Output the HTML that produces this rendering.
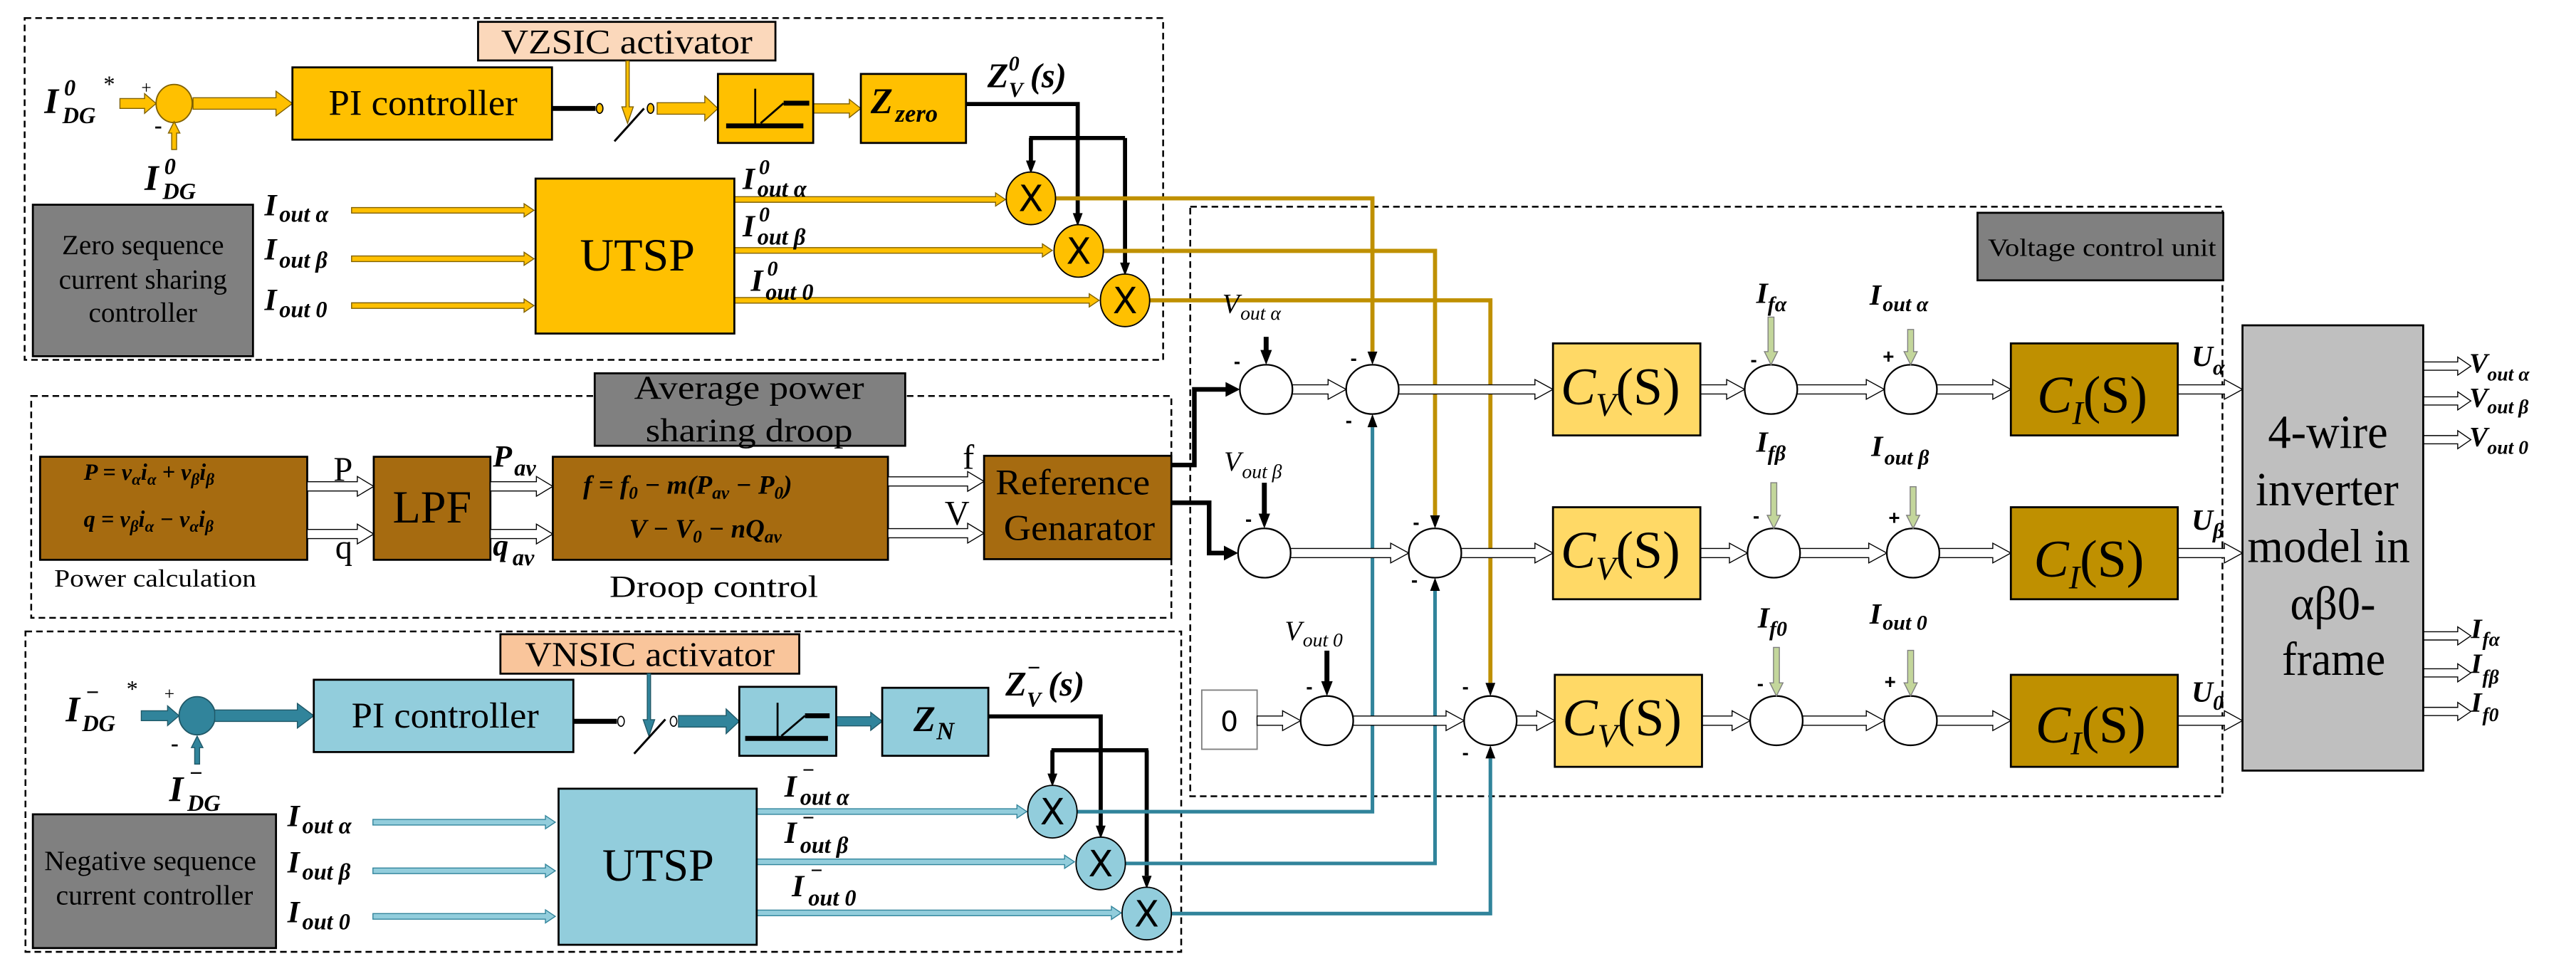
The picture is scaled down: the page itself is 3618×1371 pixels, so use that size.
<!DOCTYPE html>
<html><head><meta charset="utf-8"><style>
html,body{margin:0;padding:0;background:#fff}
svg{display:block}
.s{font-family:"Liberation Serif",serif}
.m{font-family:"Liberation Serif",serif;font-style:italic;font-weight:bold}
.i{font-family:"Liberation Serif",serif;font-style:italic}
.x{font-family:"DejaVu Sans","Liberation Sans",sans-serif}
</style></head><body>
<svg width="3618" height="1371" viewBox="0 0 1568 594" preserveAspectRatio="none" xmlns="http://www.w3.org/2000/svg">
<rect width="1568" height="594" fill="#fff"/>
<g fill="none" stroke="#000" stroke-width="1.1" stroke-dasharray="4,2.5">
<rect x="15" y="11" width="693" height="208"/>
<rect x="19" y="241" width="694" height="135"/>
<rect x="15.5" y="384.3" width="703.5" height="195"/>
<rect x="724.5" y="125.8" width="628.3" height="358.8"/>
</g>

<!-- ===== TOP: zero sequence ===== -->
<rect x="291" y="13.3" width="181" height="23.5" fill="#fbd8bb" stroke="#000" stroke-width="1.2"/>
<text class="s" x="305" y="32.5" font-size="21" textLength="153" lengthAdjust="spacingAndGlyphs">VZSIC activator</text>
<ellipse cx="106" cy="63" rx="11" ry="11.6" fill="#ffc000" stroke="#7f6000" stroke-width="0.8"/>
<g fill="#ffc000" stroke="#7f6000" stroke-width="0.6">
<path d="M73 60H88V57L95 63L88 69V66H73Z"/>
<path d="M117.5 59.5H168V55.5L178 63L168 70.5V66.5H117.5Z"/>
<path d="M400 62.5H429V58.5L437 66L429 73.5V69.5H400Z"/>
<path d="M495 63.2H517V60.5L524 66L517 71.5V68.8H495Z"/>
<path d="M104.5 91V81H102.5L106 74L109.5 81H107.5V91Z"/>
<path d="M381 37V65H378.5L382 75L385.5 65H383V37Z"/>
<path d="M214 126.3H319V124L325 128L319 132V129.7H214Z"/>
<path d="M214 155.8H319V153.5L325 157.5L319 161.5V159.2H214Z"/>
<path d="M214 184.3H319V182L325 186L319 190V187.7H214Z"/>
<path d="M447 119.7H606V117.4L612 121.4L606 125.4V123.1H447Z"/>
<path d="M447 150.7H634.5V148.4L640.5 152.4L634.5 156.4V154.1H447Z"/>
<path d="M447 181.1H663V178.8L669 182.8L663 186.8V184.5H447Z"/>
</g>
<text class="s" x="86" y="57" font-size="11">+</text>
<text class="s" x="94" y="81" font-size="14" font-weight="bold">-</text>
<rect x="178" y="41" width="158" height="44" fill="#ffc000" stroke="#000" stroke-width="1.2"/>
<text class="s" x="200" y="70" font-size="22" textLength="115" lengthAdjust="spacingAndGlyphs">PI controller</text>
<line x1="336" y1="66" x2="362.5" y2="66" stroke="#000" stroke-width="3"/>
<ellipse cx="365" cy="66" rx="2" ry="3" fill="#ffc000" stroke="#000" stroke-width="0.7"/>
<ellipse cx="396" cy="66" rx="2" ry="3" fill="#ffc000" stroke="#000" stroke-width="0.7"/>
<line x1="374" y1="86" x2="392" y2="66" stroke="#000" stroke-width="1.3"/>
<rect x="437" y="45" width="58" height="42" fill="#ffc000" stroke="#000" stroke-width="1.2"/>
<g stroke="#000" fill="none"><line x1="459.7" y1="54" x2="459.7" y2="77" stroke-width="1.2"/><line x1="442" y1="76.6" x2="489" y2="76.6" stroke-width="3"/><line x1="463" y1="75" x2="477" y2="62.8" stroke-width="1.2"/><line x1="477" y1="62.8" x2="492.6" y2="62.8" stroke-width="3"/></g>
<rect x="524" y="45" width="64" height="42" fill="#ffc000" stroke="#000" stroke-width="1.2"/>
<text class="m" x="530" y="69" font-size="22">Z</text><text class="m" x="545" y="74" font-size="15">zero</text>
<text class="m" x="601" y="53" font-size="21">Z</text><text class="m" x="614" y="43" font-size="13">0</text><text class="m" x="614" y="59" font-size="13">V</text><text class="m" x="627" y="53" font-size="21">(s)</text>
<g stroke="#000" stroke-width="2.5" fill="none"><path d="M588 63.3H656V130"/><path d="M626.5 84H684.8"/><path d="M627.5 84V98"/><path d="M684.8 84V160"/></g>
<g fill="#000"><path d="M624.5 97.7L630.5 97.7L627.5 105.7Z"/><path d="M653 129.7L659 129.7L656 137.7Z"/><path d="M681.8 159.8L687.8 159.8L684.8 167.8Z"/></g>
<g stroke="#bf9000" stroke-width="2.5" fill="none"><path d="M642.5 120.7H835.4V214"/><path d="M671.6 152.7H873.5V313.6"/><path d="M699.8 182.8H907.2V415.6"/></g>
<g fill="#ffc000" stroke="#000" stroke-width="0.8"><ellipse cx="627.5" cy="120.7" rx="15" ry="16"/><ellipse cx="656.6" cy="152.7" rx="15" ry="16"/><ellipse cx="684.8" cy="182.8" rx="15" ry="16"/></g>
<g class="x" font-size="22" text-anchor="middle"><text x="627.5" y="128.5">X</text><text x="656.6" y="160.5">X</text><text x="684.8" y="190.6">X</text></g>
<rect x="326" y="108.7" width="121" height="94.3" fill="#ffc000" stroke="#000" stroke-width="1.2"/>
<text class="s" x="353" y="164.7" font-size="28" textLength="70" lengthAdjust="spacingAndGlyphs">UTSP</text>
<rect x="20" y="124.6" width="134" height="92.2" fill="#808080" stroke="#000" stroke-width="1.2"/>
<g class="s" font-size="17" text-anchor="middle"><text x="87" y="154.6">Zero sequence</text><text x="87" y="175.6">current sharing</text><text x="87" y="195.8">controller</text></g>
<text class="m" x="27" y="69" font-size="22">I</text><text class="m" x="39" y="58" font-size="14">0</text><text class="m" x="38" y="75" font-size="14">DG</text><text class="s" x="63" y="56" font-size="14">*</text>
<text class="m" x="88" y="115.6" font-size="22">I</text><text class="m" x="100" y="106" font-size="14">0</text><text class="m" x="99" y="121" font-size="14">DG</text>
<g class="m"><text x="161" y="131" font-size="19">I</text><text x="170" y="135" font-size="14">out α</text>
<text x="161" y="158" font-size="19">I</text><text x="170" y="163" font-size="14">out β</text>
<text x="161" y="188.6" font-size="19">I</text><text x="170" y="193" font-size="14">out 0</text>
<text x="452" y="115" font-size="19">I</text><text x="462" y="106" font-size="13">0</text><text x="461" y="119.6" font-size="14">out α</text>
<text x="452" y="143.8" font-size="19">I</text><text x="462" y="134.8" font-size="13">0</text><text x="461" y="148.8" font-size="14">out β</text>
<text x="457" y="177" font-size="19">I</text><text x="467" y="167.6" font-size="13">0</text><text x="466" y="182.4" font-size="14">out 0</text></g>

<!-- ===== MIDDLE ===== -->
<rect x="24.4" y="278" width="162.6" height="62.7" fill="#a66b10" stroke="#000" stroke-width="1.2"/>
<text class="m" x="51" y="292" font-size="14">P = v<tspan font-size="10" dy="3">α</tspan><tspan dy="-3">i</tspan><tspan font-size="10" dy="3">α</tspan><tspan dy="-3"> + v</tspan><tspan font-size="10" dy="3">β</tspan><tspan dy="-3">i</tspan><tspan font-size="10" dy="3">β</tspan></text>
<text class="m" x="51" y="320.7" font-size="14">q = v<tspan font-size="10" dy="3">β</tspan><tspan dy="-3">i</tspan><tspan font-size="10" dy="3">α</tspan><tspan dy="-3"> − v</tspan><tspan font-size="10" dy="3">α</tspan><tspan dy="-3">i</tspan><tspan font-size="10" dy="3">β</tspan></text>
<text class="s" x="33" y="357" font-size="15" textLength="123" lengthAdjust="spacingAndGlyphs">Power calculation</text>
<rect x="227.5" y="278" width="71" height="62.7" fill="#a66b10" stroke="#000" stroke-width="1.2"/>
<text class="s" x="239" y="318" font-size="28" textLength="48" lengthAdjust="spacingAndGlyphs">LPF</text>
<rect x="336.5" y="278" width="204" height="62.7" fill="#a66b10" stroke="#000" stroke-width="1.2"/>
<text class="m" x="355" y="300.5" font-size="16">f = f<tspan font-size="11" dy="3">0</tspan><tspan dy="-3"> − m(P</tspan><tspan font-size="11" dy="3">av</tspan><tspan dy="-3"> − P</tspan><tspan font-size="11" dy="3">0</tspan><tspan dy="-3">)</tspan></text>
<text class="m" x="383" y="327.2" font-size="16">V − V<tspan font-size="11" dy="3">0</tspan><tspan dy="-3"> − nQ</tspan><tspan font-size="11" dy="3">av</tspan></text>
<text class="s" x="371" y="363.4" font-size="19" textLength="127" lengthAdjust="spacingAndGlyphs">Droop control</text>
<rect x="599" y="277.4" width="114" height="62.9" fill="#a66b10" stroke="#000" stroke-width="1.2"/>
<text class="s" x="606" y="301" font-size="22" textLength="94" lengthAdjust="spacingAndGlyphs">Reference</text>
<text class="s" x="611" y="328.7" font-size="22" textLength="92" lengthAdjust="spacingAndGlyphs">Genarator</text>
<rect x="362" y="227.2" width="189" height="44.1" fill="#808080" stroke="#000" stroke-width="1.2"/>
<g class="s" font-size="20" text-anchor="middle"><text x="456" y="242.7" textLength="140" lengthAdjust="spacingAndGlyphs">Average power</text><text x="456" y="268.7" textLength="126" lengthAdjust="spacingAndGlyphs">sharing droop</text></g>
<g fill="#fff" stroke="#000" stroke-width="0.6">
<path d="M187 293.2H217.5V290L227.5 296L217.5 302V298.8H187Z"/>
<path d="M187 322.2H217.5V319L227.5 325L217.5 331V327.8H187Z"/>
<path d="M298.5 293.2H326.5V290L336.5 296L326.5 302V298.8H298.5Z"/>
<path d="M298.5 322.2H326.5V319L336.5 325L326.5 331V327.8H298.5Z"/>
<path d="M540.5 290.2H589V287L599 293L589 299V295.8H540.5Z"/>
<path d="M540.5 321.7H589V318.5L599 324.5L589 330.5V327.3H540.5Z"/>
</g>
<text class="s" x="203" y="292.6" font-size="21">P</text>
<text class="s" x="204" y="340" font-size="21">q</text>
<text class="m" x="300" y="284" font-size="19">P</text><text class="m" x="313" y="289.5" font-size="14">av</text>
<text class="m" x="300" y="338" font-size="19">q</text><text class="m" x="312" y="344" font-size="14">av</text>
<text class="s" x="586" y="285.3" font-size="21">f</text>
<text class="s" x="575" y="319.3" font-size="21">V</text>
<g stroke="#000" stroke-width="2.8" fill="none"><path d="M713 283H727V237H747"/><path d="M713 306H736V336.6H746"/></g>
<g fill="#000"><path d="M746 232.5L754.7 237L746 241.5Z"/><path d="M745 332.1L753.6 336.6L745 341.1Z"/></g>

<!-- ===== BOTTOM: negative sequence ===== -->
<rect x="304.6" y="386" width="181.9" height="24" fill="#f9c59b" stroke="#000" stroke-width="1.2"/>
<text class="s" x="319.6" y="405.3" font-size="21" textLength="152" lengthAdjust="spacingAndGlyphs">VNSIC activator</text>
<ellipse cx="120" cy="435.6" rx="11" ry="11.6" fill="#31849b" stroke="#205867" stroke-width="0.8"/>
<g fill="#31849b" stroke="#205867" stroke-width="0.6">
<path d="M86 432.6H102V429.6L109 435.6L102 441.6V438.6H86Z"/>
<path d="M130.7 432.1H181V428.1L191 435.6L181 443.1V439.1H130.7Z"/>
<path d="M118.5 465V455H116.5L120 448L123.5 455H121.5V465Z"/>
<path d="M394 410V438H391.5L395 448L398.5 438H396V410Z"/>
<path d="M413 435.5H442V431.5L450 439L442 446.5V442.5H413Z"/>
<path d="M509 436.2H530V433.5L537 439L530 444.5V441.8H509Z"/>
</g>
<g fill="#92cddc" stroke="#31849b" stroke-width="0.6">
<path d="M227 498.7H332V496.4L338 500.4L332 504.4V502.1H227Z"/>
<path d="M227 528.3H332V526L338 530L332 534V531.7H227Z"/>
<path d="M227 556H332V553.7L338 557.7L332 561.7V559.4H227Z"/>
<path d="M460.6 492.2H619V489.9L625 493.9L619 497.9V495.6H460.6Z"/>
<path d="M460.6 522.8H648V520.5L654 524.5L648 528.5V526.2H460.6Z"/>
<path d="M460.6 553.9H676.5V551.6L682.5 555.6L676.5 559.6V557.3H460.6Z"/>
</g>
<text class="s" x="100" y="426" font-size="11">+</text>
<text class="s" x="104" y="457" font-size="14" font-weight="bold">-</text>
<rect x="191" y="413.7" width="158" height="44" fill="#92cddc" stroke="#000" stroke-width="1.2"/>
<text class="s" x="214" y="442.8" font-size="22" textLength="114" lengthAdjust="spacingAndGlyphs">PI controller</text>
<line x1="349" y1="439" x2="375.5" y2="439" stroke="#000" stroke-width="3"/>
<ellipse cx="378" cy="439" rx="2" ry="3" fill="#fff" stroke="#000" stroke-width="0.7"/>
<ellipse cx="410" cy="439" rx="2" ry="3" fill="#fff" stroke="#000" stroke-width="0.7"/>
<line x1="386" y1="458.7" x2="405" y2="437.8" stroke="#000" stroke-width="1.3"/>
<rect x="450" y="418" width="59" height="42" fill="#92cddc" stroke="#000" stroke-width="1.2"/>
<g stroke="#000" fill="none"><line x1="473.3" y1="427.7" x2="473.3" y2="449.4" stroke-width="1.2"/><line x1="453.6" y1="449.4" x2="504" y2="449.4" stroke-width="3"/><line x1="475.6" y1="447.9" x2="490" y2="435.6" stroke-width="1.2"/><line x1="490" y1="435.6" x2="505" y2="435.6" stroke-width="3"/></g>
<rect x="537" y="418.6" width="64.6" height="41.4" fill="#92cddc" stroke="#000" stroke-width="1.2"/>
<text class="m" x="556" y="445" font-size="22">Z</text><text class="m" x="570" y="450" font-size="15">N</text>
<text class="m" x="612" y="423.3" font-size="21">Z</text><text class="m" x="625" y="411" font-size="14">−</text><text class="m" x="625" y="430" font-size="13">V</text><text class="m" x="638" y="423.3" font-size="21">(s)</text>
<g stroke="#000" stroke-width="2.5" fill="none"><path d="M601.6 436H670V503"/><path d="M640 456.6H699"/><path d="M640.6 456.6V471"/><path d="M698 456.6V533"/></g>
<g fill="#000"><path d="M637.6 470.8L643.6 470.8L640.6 478.8Z"/><path d="M667 502.5L673 502.5L670 510.5Z"/><path d="M695 533L701 533L698 541Z"/></g>
<g stroke="#31849b" stroke-width="2.2" fill="none"><path d="M655.6 494H835.4V260"/><path d="M685 525.5H873.5V359.6"/><path d="M713 556H907.2V461.6"/></g>
<g fill="#92cddc" stroke="#000" stroke-width="0.8"><ellipse cx="640.6" cy="494" rx="15" ry="16"/><ellipse cx="670" cy="525.5" rx="15" ry="16"/><ellipse cx="698" cy="556" rx="15" ry="16"/></g>
<g class="x" font-size="22" text-anchor="middle"><text x="640.6" y="501.8">X</text><text x="670" y="533.3">X</text><text x="698" y="563.8">X</text></g>
<rect x="340" y="480" width="120.6" height="95" fill="#92cddc" stroke="#000" stroke-width="1.2"/>
<text class="s" x="366.6" y="536" font-size="28" textLength="68" lengthAdjust="spacingAndGlyphs">UTSP</text>
<rect x="20" y="495.6" width="148" height="81.4" fill="#808080" stroke="#000" stroke-width="1.2"/>
<g class="s" font-size="17"><text x="27" y="529.5" textLength="129" lengthAdjust="spacingAndGlyphs">Negative sequence</text><text x="34" y="550.5" textLength="120" lengthAdjust="spacingAndGlyphs">current controller</text></g>
<text class="m" x="40" y="439.2" font-size="22">I</text><text class="m" x="52" y="426" font-size="14">−</text><text class="m" x="50" y="445" font-size="14">DG</text><text class="s" x="77" y="424" font-size="14">*</text>
<text class="m" x="103" y="487.6" font-size="22">I</text><text class="m" x="115" y="475" font-size="14">−</text><text class="m" x="114" y="493.4" font-size="14">DG</text>
<g class="m"><text x="175" y="502.8" font-size="19">I</text><text x="184" y="507.2" font-size="14">out α</text>
<text x="175" y="531" font-size="19">I</text><text x="184" y="535.3" font-size="14">out β</text>
<text x="175" y="561.3" font-size="19">I</text><text x="184" y="565.7" font-size="14">out 0</text>
<text x="477.5" y="484.8" font-size="19">I</text><text x="488" y="473" font-size="13">−</text><text x="487" y="489.8" font-size="14">out α</text>
<text x="477.5" y="513" font-size="19">I</text><text x="488" y="502" font-size="13">−</text><text x="487" y="519" font-size="14">out β</text>
<text x="482" y="545.4" font-size="19">I</text><text x="493" y="534" font-size="13">−</text><text x="492" y="551" font-size="14">out 0</text></g>

<!-- ===== VOLTAGE CONTROL UNIT ===== -->
<rect x="1203.7" y="129.5" width="149.6" height="41.1" fill="#808080" stroke="#000" stroke-width="1.2"/>
<text class="s" x="1210" y="155.7" font-size="15" textLength="139" lengthAdjust="spacingAndGlyphs">Voltage control unit</text>
<rect x="731.5" y="420" width="33.7" height="36" fill="#fff" stroke="#7f7f7f" stroke-width="0.8"/>
<text class="x" x="748.3" y="445" font-size="17" text-anchor="middle">0</text>
<g fill="#fff" stroke="#000" stroke-width="0.6">
<path d="M786.7 234.2H808.4V231L819.4 237L808.4 243V239.8H786.7Z"/>
<path d="M851.4 234.2H934.3V231L945.3 237L934.3 243V239.8H851.4Z"/>
<path d="M1035 234.2H1051V231L1062 237L1051 243V239.8H1035Z"/>
<path d="M1094 234.2H1136V231L1147 237L1136 243V239.8H1094Z"/>
<path d="M1179 234.2H1213V231L1224 237L1213 243V239.8H1179Z"/>
<path d="M1325.6 234.2H1354V231L1365 237L1354 243V239.8H1325.6Z"/>
<path d="M785.6 333.8H846.5V330.6L857.5 336.6L846.5 342.6V339.4H785.6Z"/>
<path d="M889.5 333.8H934.3V330.6L945.3 336.6L934.3 342.6V339.4H889.5Z"/>
<path d="M1035 333.8H1052.7V330.6L1063.7 336.6L1052.7 342.6V339.4H1035Z"/>
<path d="M1095.7 333.8H1137.5V330.6L1148.5 336.6L1137.5 342.6V339.4H1095.7Z"/>
<path d="M1180.5 333.8H1213V330.6L1224 336.6L1213 342.6V339.4H1180.5Z"/>
<path d="M1325.6 333.8H1354V330.6L1365 336.6L1354 342.6V339.4H1325.6Z"/>
<path d="M765.2 435.8H780.7V432.6L791.7 438.6L780.7 444.6V441.4H765.2Z"/>
<path d="M823.7 435.8H880.2V432.6L891.2 438.6L880.2 444.6V441.4H823.7Z"/>
<path d="M923.2 435.8H935.4V432.6L946.4 438.6L935.4 444.6V441.4H923.2Z"/>
<path d="M1036 435.8H1054.3V432.6L1065.3 438.6L1054.3 444.6V441.4H1036Z"/>
<path d="M1097.3 435.8H1136V432.6L1147 438.6L1136 444.6V441.4H1097.3Z"/>
<path d="M1179 435.8H1213V432.6L1224 438.6L1213 444.6V441.4H1179Z"/>
<path d="M1325.6 435.8H1354V432.6L1365 438.6L1354 444.6V441.4H1325.6Z"/>
<path d="M1475 220.3H1496V217.3L1504 222.8L1496 228.3V225.3H1475Z"/>
<path d="M1475 241.5H1496V238.5L1504 244L1496 249.5V246.5H1475Z"/>
<path d="M1475 265.1H1496V262.1L1504 267.6L1496 273.1V270.1H1475Z"/>
<path d="M1475 384.5H1496V381.5L1504 387L1496 392.5V389.5H1475Z"/>
<path d="M1475 407H1496V404L1504 409.5L1496 415V412H1475Z"/>
<path d="M1475 430.5H1496V427.5L1504 433L1496 438.5V435.5H1475Z"/>
</g>
<g fill="#fff" stroke="#000" stroke-width="1">
<ellipse cx="770.7" cy="237" rx="16" ry="15"/><ellipse cx="835.4" cy="237" rx="16" ry="15"/><ellipse cx="1078" cy="237" rx="16" ry="15"/><ellipse cx="1163" cy="237" rx="16" ry="15"/>
<ellipse cx="769.6" cy="336.6" rx="16" ry="15"/><ellipse cx="873.5" cy="336.6" rx="16" ry="15"/><ellipse cx="1079.7" cy="336.6" rx="16" ry="15"/><ellipse cx="1164.5" cy="336.6" rx="16" ry="15"/>
<ellipse cx="807.7" cy="438.6" rx="16" ry="15"/><ellipse cx="907.2" cy="438.6" rx="16" ry="15"/><ellipse cx="1081.3" cy="438.6" rx="16" ry="15"/><ellipse cx="1163" cy="438.6" rx="16" ry="15"/>
</g>
<g fill="#000">
<path d="M832.4 214L838.4 214L835.4 222Z"/><path d="M870.5 313.6L876.5 313.6L873.5 321.6Z"/><path d="M904.2 415.6L910.2 415.6L907.2 423.6Z"/>
<path d="M832.4 260L838.4 260L835.4 252Z"/><path d="M870.5 359.6L876.5 359.6L873.5 351.6Z"/><path d="M904.2 461.6L910.2 461.6L907.2 453.6Z"/>
<path d="M767.2 213L774.2 213L770.7 222Z"/><path d="M766.1 312.6L773.1 312.6L769.6 321.6Z"/><path d="M804.2 414.6L811.2 414.6L807.7 423.6Z"/>
</g>
<g stroke="#000" stroke-width="3"><line x1="770.7" y1="205" x2="770.7" y2="214"/><line x1="769.6" y1="293.8" x2="769.6" y2="313.6"/><line x1="807.7" y1="396" x2="807.7" y2="415.6"/></g>
<g fill="#c3d69b" stroke="#7f7f7f" stroke-width="0.6">
<path d="M1076.2 193V214H1074L1078 222L1082 214H1079.8V193Z"/>
<path d="M1161.2 200.5V214H1159L1163 222L1167 214H1164.8V200.5Z"/>
<path d="M1077.9 293.8V313.6H1075.7L1079.7 321.6L1083.7 313.6H1081.5V293.8Z"/>
<path d="M1162.7 296.2V313.6H1160.5L1164.5 321.6L1168.5 313.6H1166.3V296.2Z"/>
<path d="M1079.5 394V415.6H1077.3L1081.3 423.6L1085.3 415.6H1083.1V394Z"/>
<path d="M1161.2 395.8V415.6H1159L1163 423.6L1167 415.6H1164.8V395.8Z"/>
</g>
<g font-family="Liberation Sans,sans-serif" font-weight="bold" font-size="12">
<text x="751" y="224">-</text><text x="822" y="222">-</text><text x="819" y="260">-</text><text x="1065.5" y="223">-</text><text x="1146" y="221">+</text>
<text x="758" y="320">-</text><text x="860" y="322">-</text><text x="859" y="357">-</text><text x="1067" y="318">-</text><text x="1149.5" y="319">+</text>
<text x="795" y="422">-</text><text x="890" y="422">-</text><text x="890" y="462">-</text><text x="1069.5" y="420">-</text><text x="1147" y="419">+</text>
</g>
<g fill="#ffd966" stroke="#000" stroke-width="1.2"><rect x="945.3" y="209" width="89.7" height="56"/><rect x="945.3" y="308.7" width="89.7" height="56"/><rect x="946.4" y="410.7" width="89.6" height="56"/></g>
<g fill="#bf9000" stroke="#000" stroke-width="1.2"><rect x="1224" y="209" width="101.6" height="56"/><rect x="1224" y="308.7" width="101.6" height="56"/><rect x="1224" y="410.7" width="101.6" height="56"/></g>
<g class="s" font-size="32">
<text x="950" y="246"><tspan font-style="italic">C</tspan><tspan font-style="italic" font-size="20" dy="7">V</tspan><tspan dy="-7">(S)</tspan></text>
<text x="950" y="345.6"><tspan font-style="italic">C</tspan><tspan font-style="italic" font-size="20" dy="7">V</tspan><tspan dy="-7">(S)</tspan></text>
<text x="951" y="447.6"><tspan font-style="italic">C</tspan><tspan font-style="italic" font-size="20" dy="7">V</tspan><tspan dy="-7">(S)</tspan></text>
<text x="1240" y="251"><tspan font-style="italic">C</tspan><tspan font-style="italic" font-size="20" dy="7">I</tspan><tspan dy="-7">(S)</tspan></text>
<text x="1238" y="351"><tspan font-style="italic">C</tspan><tspan font-style="italic" font-size="20" dy="7">I</tspan><tspan dy="-7">(S)</tspan></text>
<text x="1239" y="452"><tspan font-style="italic">C</tspan><tspan font-style="italic" font-size="20" dy="7">I</tspan><tspan dy="-7">(S)</tspan></text>
</g>
<g class="i"><text x="744" y="190.5" font-size="17">V</text><text x="755" y="194.5" font-size="12">out  α</text>
<text x="745" y="286.3" font-size="17">V</text><text x="756" y="291" font-size="12">out  β</text>
<text x="782" y="389.5" font-size="17">V</text><text x="793" y="393.3" font-size="12">out  0</text></g>
<g class="m">
<text x="1069" y="184.3" font-size="18">I</text><text x="1076" y="189.3" font-size="13">fα</text>
<text x="1138" y="185.5" font-size="18">I</text><text x="1146" y="189.3" font-size="13">out α</text>
<text x="1069" y="275" font-size="18">I</text><text x="1076" y="280" font-size="13">fβ</text>
<text x="1139" y="277.6" font-size="18">I</text><text x="1147" y="282.6" font-size="13">out β</text>
<text x="1070" y="382" font-size="18">I</text><text x="1077" y="387" font-size="13">f0</text>
<text x="1138" y="379.6" font-size="18">I</text><text x="1146" y="383.3" font-size="13">out 0</text>
<text x="1334" y="222.8" font-size="18">U</text><text x="1347" y="227.8" font-size="13">α</text>
<text x="1334" y="322.4" font-size="18">U</text><text x="1347" y="327.4" font-size="13">β</text>
<text x="1334" y="427" font-size="18">U</text><text x="1347" y="432" font-size="13">0</text>
<text x="1503" y="226.6" font-size="17">V</text><text x="1514" y="231.6" font-size="12">out α</text>
<text x="1503" y="247.7" font-size="17">V</text><text x="1514" y="251.5" font-size="12">out β</text>
<text x="1503" y="271.4" font-size="17">V</text><text x="1514" y="276.3" font-size="12">out 0</text>
<text x="1504" y="388.3" font-size="17">I</text><text x="1511" y="393" font-size="12">fα</text>
<text x="1504" y="409.5" font-size="17">I</text><text x="1511" y="416" font-size="12">fβ</text>
<text x="1504" y="433" font-size="17">I</text><text x="1511" y="439" font-size="12">f0</text>
</g>
<rect x="1365" y="198" width="110" height="271" fill="#bfbfbf" stroke="#000" stroke-width="1.2"/>
<g class="s" font-size="29" text-anchor="middle">
<text x="1417" y="272.6" textLength="73" lengthAdjust="spacingAndGlyphs">4-wire</text>
<text x="1416.5" y="307.4" textLength="87" lengthAdjust="spacingAndGlyphs">inverter</text>
<text x="1417.5" y="342" textLength="99" lengthAdjust="spacingAndGlyphs">model in</text>
<text x="1420" y="377" textLength="52" lengthAdjust="spacingAndGlyphs">αβ0-</text>
<text x="1420.5" y="410.7" textLength="63" lengthAdjust="spacingAndGlyphs">frame</text>
</g>
</svg>
</body></html>
